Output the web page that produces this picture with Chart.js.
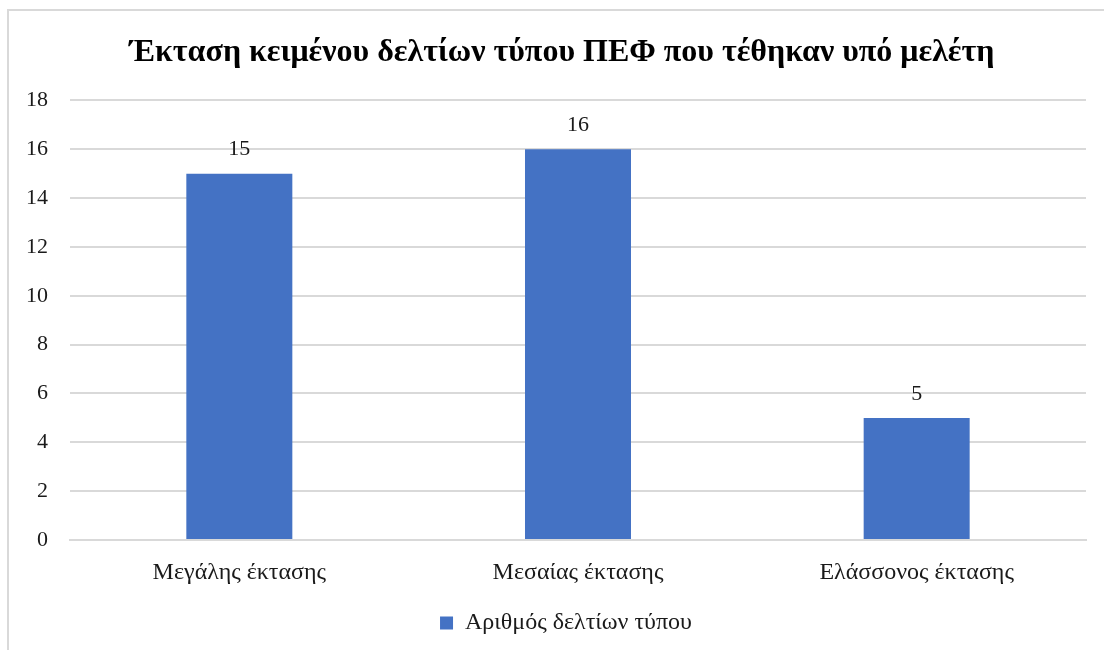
<!DOCTYPE html>
<html>
<head>
<meta charset="utf-8">
<script src="https://cdn.jsdelivr.net/npm/chart.js@4"></script>
<style>
  html, body { margin: 0; padding: 0; background: #fff; }
  #wrap { position: relative; width: 1104px; height: 650px; overflow: hidden; }
  #frame { position: absolute; left: 7px; top: 9px; width: 1200px; height: 700px; border: 2px solid #d9d9d9; box-sizing: border-box; }
  #box { position: absolute; left: 0; top: 0; width: 1104px; height: 650px; }
</style>
</head>
<body>
<div id="wrap">
  <div id="frame"></div>
  <div id="box"><canvas id="myChart"></canvas></div>
</div>
<script>
'use strict';

let categories = ['Μεγάλης έκτασης', 'Μεσαίας έκτασης', 'Ελάσσονος έκτασης'];
let counts = [15, 16, 5];
let seriesName = 'Αριθμός δελτίων τύπου';
let chartTitle = 'Έκταση κειμένου δελτίων τύπου ΠΕΦ που τέθηκαν υπό μελέτη';
let yMax = 18;
let yStep = 2;

const serif = "'Liberation Serif', 'DejaVu Serif', serif";
const textColor = '#1a1a1a';

// value labels over the bars, and nudge title + legend a little right like the original
const barLabels = {
  id: 'barLabels',
  afterLayout(chart) {
    if (chart.titleBlock) {
      chart.titleBlock.left = 20;
      chart.titleBlock.right = 1104;
    }
    if (chart.legend) {
      chart.legend.left = 28;
      chart.legend.right = 1104;
    }
  },
  afterDatasetsDraw(chart) {
    let ctx = chart.ctx;
    let meta = chart.getDatasetMeta(0);
    ctx.save();
    ctx.font = '22px ' + serif;
    ctx.fillStyle = textColor;
    ctx.textAlign = 'center';
    ctx.textBaseline = 'middle';
    meta.data.forEach(function(bar, i) {
      ctx.fillText(String(counts[i]), bar.x, bar.y - 24);
    });
    ctx.restore();
  }
};

let ctx = document.getElementById('myChart').getContext('2d');
let myChart = new Chart(ctx, {
  type: 'bar',
  data: {
    labels: categories,
    datasets: [{
      label: seriesName,
      data: counts,
      backgroundColor: '#4472C4',
      borderWidth: 0,
      categoryPercentage: 0.313,
      barPercentage: 1
    }]
  },
  options: {
    responsive: true,
    maintainAspectRatio: false,
    animation: false,
    layout: { padding: { left: 0, right: 18, top: 0, bottom: 5 } },
    plugins: {
      title: {
        display: true,
        text: chartTitle,
        color: '#000',
        font: { family: serif, size: 32, weight: 'bold' },
        padding: { top: 34, bottom: 28 }
      },
      legend: {
        position: 'bottom',
        labels: {
          color: textColor,
          font: { family: serif, size: 24 },
          boxWidth: 13,
          boxHeight: 13,
          padding: 13
        }
      },
      tooltip: { enabled: false }
    },
    scales: {
      x: {
        afterFit(scale) { scale.height = 58; },
        grid: { display: false, drawTicks: false },
        border: { color: '#d9d9d9', width: 2 },
        ticks: { color: textColor, font: { family: serif, size: 24 }, padding: 18 }
      },
      y: {
        min: 0,
        max: yMax,
        afterFit(scale) { scale.width = 70; },
        grid: { color: '#d9d9d9', lineWidth: 2, drawTicks: false },
        border: { display: false },
        ticks: { stepSize: yStep, color: textColor, font: { family: serif, size: 22 }, padding: 22 }
      }
    }
  },
  plugins: [barLabels]
});
</script>
</body>
</html>
